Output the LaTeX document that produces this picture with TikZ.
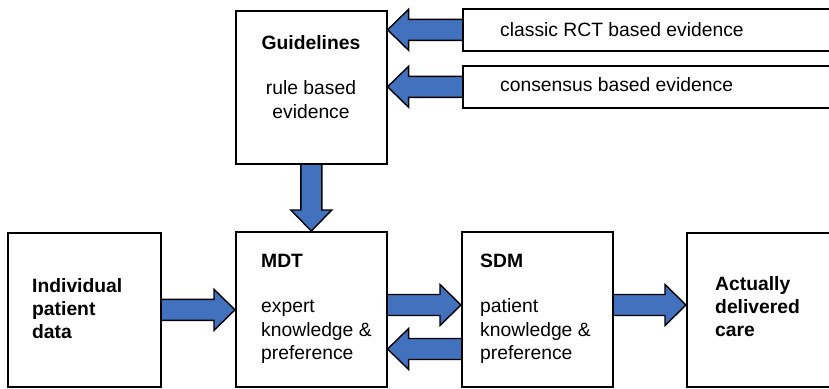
\documentclass[tikz,border=0pt]{standalone}
\usepackage{fontspec}
\setmainfont{Liberation Sans}
\usetikzlibrary{calc,backgrounds}
\definecolor{arrowblue}{RGB}{66,114,190}

% block arrow from #1 to #2 (axis independent), tip at #2
\newcommand\blockarrow[2]{%
  \coordinate (ba-s) at (#1);
  \coordinate (ba-e) at (#2);
  \coordinate (ba-b) at ($(ba-e)!21pt!(ba-s)$);
  \draw[fatarrow]
    ($(ba-s)!10.5pt!90:(ba-e)$) -- ($(ba-b)!10.5pt!-90:(ba-s)$)
    -- ($(ba-b)!20.5pt!-90:(ba-s)$) -- (ba-e)
    -- ($(ba-b)!20.5pt!90:(ba-s)$) -- ($(ba-b)!10.5pt!90:(ba-s)$)
    -- ($(ba-s)!10.5pt!-90:(ba-e)$);
}

\begin{document}
\begin{tikzpicture}[x=1pt,y=-1pt,
  box/.style={draw=black, line width=1.6pt, fill=white, rectangle,
    inner sep=0pt, anchor=north west},
  fatarrow/.style={draw=black, line width=1.4pt, fill=arrowblue, line join=miter},
  txt/.style={anchor=base west, inner sep=0pt, align=left,
    font=\fontsize{19.3}{23.5}\selectfont},
  ttl/.style={anchor=base west, inner sep=0pt, align=left,
    font=\bfseries\fontsize{19.3}{22.8}\selectfont}]

\useasboundingbox (0,0) rectangle (829,388);

\begin{scope}
\clip (0,0) rectangle (829,388);
% boxes
\node[box, minimum width=151pt, minimum height=153pt] (guide) at (235,10) {};
\node[box, minimum width=400pt, minimum height=42pt] (rct) at (462,8) {};
\node[box, minimum width=400pt, minimum height=42pt] (cons) at (462,65) {};
\node[box, minimum width=153pt, minimum height=154pt] (indiv) at (7,232) {};
\node[box, minimum width=151pt, minimum height=155pt] (mdt) at (235,231) {};
\node[box, minimum width=151pt, minimum height=155pt] (sdm) at (461,231) {};
\node[box, minimum width=200pt, minimum height=154pt] (act) at (686,232) {};
\end{scope}

% texts (multi-line nodes sit on the baseline of their last line)
\node[ttl, anchor=base] (gtitle) at (311,49) {Guidelines};
\node[txt, anchor=base, align=center] (gbody) at (311,118) {rule based\\evidence};
\node[txt] (rcttext) at (500,36.5) {classic RCT based evidence};
\node[txt] (constext) at (500,91.5) {consensus based evidence};
\node[ttl] (ititle) at (32,338.5) {Individual\\patient\\data};
\node[ttl] (mtitle) at (261,267) {MDT};
\node[txt] (mbody) at (261,359.5) {expert\\knowledge \&\\preference};
\node[ttl] (stitle) at (480,267) {SDM};
\node[txt] (sbody) at (480,359.5) {patient\\knowledge \&\\preference};
\node[ttl] (atitle) at (715,336) {Actually\\delivered\\care};

% connectors
\begin{pgfonlayer}{background}
\fill[white] (0,0) rectangle (829,388);
\blockarrow{rct.west}{guide.east |- rct.west}
\blockarrow{cons.west}{guide.east |- cons.west}
\blockarrow{guide.south}{mdt.north}
\blockarrow{indiv.east}{mdt.west |- indiv.east}
\blockarrow{mdt.east |- 0,305}{sdm.west |- 0,305}
\blockarrow{sdm.west |- 0,349}{mdt.east |- 0,349}
\blockarrow{sdm.east |- 0,305}{act.west |- 0,305}
\end{pgfonlayer}
\end{tikzpicture}
\end{document}
